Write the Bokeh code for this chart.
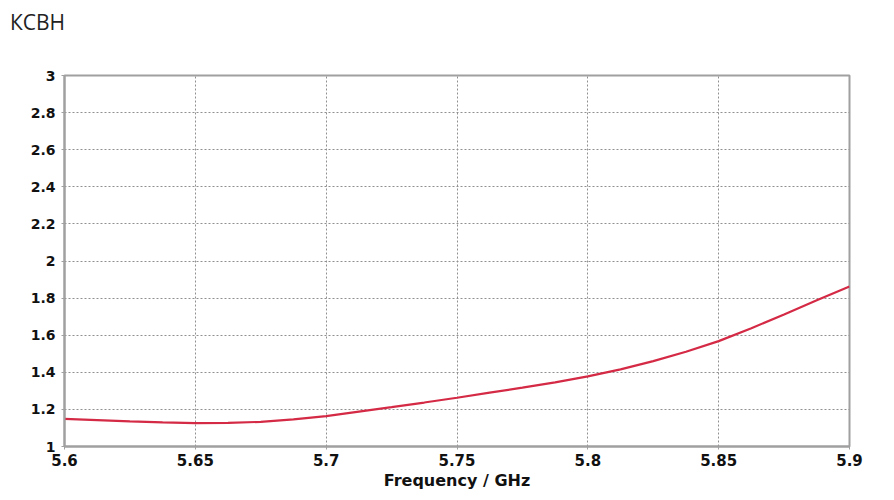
from bokeh.plotting import figure
from bokeh.embed import file_html
from bokeh.resources import INLINE
from bokeh.models import Range1d, FixedTicker, Div
from bokeh.layouts import column

freq = [5.6, 5.6125, 5.625, 5.6375, 5.65, 5.6625, 5.675, 5.6875, 5.7, 5.7125,
        5.725, 5.7375, 5.75, 5.7625, 5.775, 5.7875, 5.8, 5.8125, 5.825, 5.8375,
        5.85, 5.8625, 5.875, 5.8875, 5.9]
vswr = [1.149, 1.142, 1.135, 1.130, 1.126, 1.127, 1.133, 1.146, 1.164, 1.188,
        1.212, 1.237, 1.263, 1.290, 1.317, 1.346, 1.378, 1.416, 1.460, 1.511,
        1.568, 1.638, 1.712, 1.788, 1.863]

x_ticks = [5.6, 5.65, 5.7, 5.75, 5.8, 5.85, 5.9]
y_ticks = [1, 1.2, 1.4, 1.6, 1.8, 2, 2.2, 2.4, 2.6, 2.8, 3]
title_text = "КСВН"

header = Div(text=title_text, width=886, height=40, margin=0,
             styles={"font-family": "Open Sans", "font-size": "21px", "color": "#222222",
                     "padding-left": "10px", "padding-top": "8px", "line-height": "28px"})

p = figure(width=886, height=452, output_backend="svg", toolbar_location=None,
           x_range=Range1d(5.6, 5.9), y_range=Range1d(1, 3),
           min_border_left=64, min_border_right=37,
           min_border_bottom=10, min_border_top=35)

p.line(freq, vswr, line_color="#d42a45", line_width=2.2)

for ax in (p.xaxis, p.yaxis):
    ax.major_label_text_font = "DejaVu Sans"
    ax.major_label_text_font_style = "bold"
    ax.major_label_text_color = "#111111"
    ax.axis_line_color = "#a0a0a0"
    ax.axis_line_width = 2
    ax.major_tick_line_color = "#a0a0a0"
    ax.major_tick_in = 0
    ax.major_tick_out = 3
    ax.minor_tick_line_color = None

p.xaxis.major_label_text_font_size = "15px"
p.yaxis.major_label_text_font_size = "14px"
p.xaxis.ticker = FixedTicker(ticks=x_ticks)
p.yaxis.ticker = FixedTicker(ticks=y_ticks)
p.xaxis.major_label_overrides = {5.6: "5.6", 5.65: "5.65", 5.7: "5.7", 5.75: "5.75", 5.8: "5.8", 5.85: "5.85", 5.9: "5.9"}
p.yaxis.major_label_overrides = {1: "1", 2: "2", 3: "3"}
p.xaxis.major_label_standoff = 4
p.yaxis.major_label_standoff = 6
p.xaxis.axis_label = "Frequency / GHz"
p.xaxis.axis_label_text_font = "DejaVu Sans"
p.xaxis.axis_label_text_font_style = "bold"
p.xaxis.axis_label_text_font_size = "16px"
p.xaxis.axis_label_text_color = "#111111"
p.xaxis.axis_label_standoff = 2

p.grid.grid_line_color = "#909090"
p.grid.grid_line_dash = "2 2"
p.grid.grid_line_width = 1

p.outline_line_color = "#a0a0a0"
p.outline_line_width = 2
p.background_fill_color = "white"
p.border_fill_color = "white"

layout = column(header, p, spacing=0)
open("out.html", "w").write(file_html(layout, INLINE))
